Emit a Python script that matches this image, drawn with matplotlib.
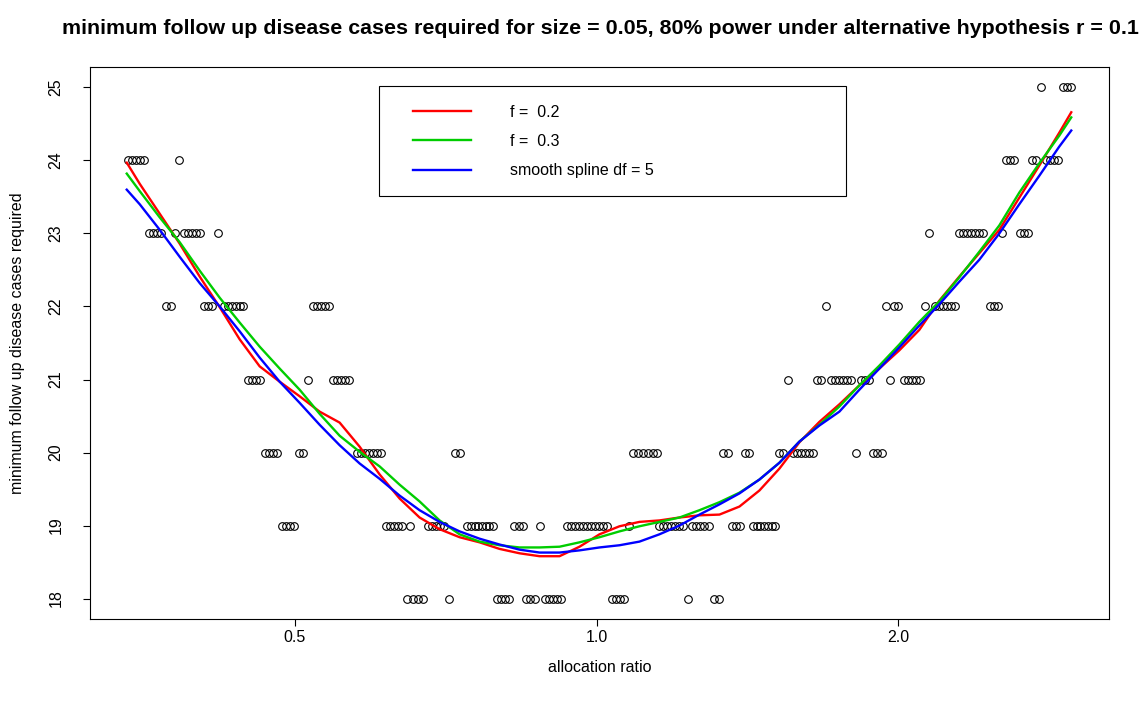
import numpy as np
import matplotlib
matplotlib.use("Agg")
import matplotlib.pyplot as plt
from matplotlib.patches import Rectangle
from matplotlib.lines import Line2D

plt.rcParams['font.family'] = ['Liberation Sans', 'DejaVu Sans']

# ---------------- data (allocation ratio values per observed case count) ----------------
ratio_at_25 = [2.7770, 2.9208, 2.9477, 2.9749]
ratio_at_24 = [0.34080, 0.34395, 0.34712, 0.35032, 0.35355, 0.38313,
               2.5626, 2.5863, 2.6101, 2.7202, 2.7453, 2.8090, 2.8350, 2.8611, 2.8875]
ratio_at_23 = [0.35764, 0.36093, 0.36426, 0.36762, 0.37963, 0.38755, 0.39112, 0.39473,
               0.39837, 0.40205, 0.41900,
               2.1475, 2.3006, 2.3218, 2.3432, 2.3648, 2.3866, 2.4086, 2.4308, 2.5392,
               2.6463, 2.6707, 2.6953]
ratio_at_22 = [0.37186, 0.37615, 0.40575, 0.40949, 0.41327, 0.42481, 0.42873, 0.43268,
               0.43667, 0.44070, 0.44375, 0.52109, 0.52590, 0.53075, 0.53564, 0.54059,
               1.6954, 1.9457, 1.9817, 2.0000, 2.1279, 2.1773, 2.1973, 2.2176, 2.2381,
               2.2587, 2.2796, 2.4702, 2.4930, 2.5160]
ratio_at_21 = [0.44887, 0.45301, 0.45719, 0.46140, 0.51515, 0.54557, 0.55060, 0.55568,
               0.56080, 0.56597,
               1.5538, 1.6607, 1.6760, 1.7149, 1.7307, 1.7467, 1.7628, 1.7791, 1.7955,
               1.8372, 1.8541, 1.8712, 1.9636, 2.0277, 2.0464, 2.0653, 2.0844, 2.1036]
ratio_at_20 = [0.46673, 0.47103, 0.47538, 0.47977, 0.50461, 0.50927, 0.57646, 0.58177,
               0.58714, 0.59256, 0.59803, 0.60354, 0.60911, 0.72186, 0.73020,
               1.08863, 1.10120, 1.11390, 1.12676, 1.13977, 1.15028, 1.3384, 1.3539,
               1.4077, 1.4207, 1.5220, 1.5360, 1.5717, 1.5862, 1.6008, 1.6156, 1.6305,
               1.6455, 1.8162, 1.8885, 1.9059, 1.9279]
ratio_at_19 = [0.48530, 0.48978, 0.49430, 0.49885, 0.61613, 0.62182, 0.62755, 0.63335,
               0.63919, 0.65103, 0.67849, 0.68474, 0.69106, 0.69743, 0.70387, 0.74202,
               0.74886, 0.75578, 0.76099, 0.76801, 0.77509, 0.78045, 0.78765, 0.82655,
               0.83608, 0.84380, 0.87737, 0.93346, 0.94207, 0.95076, 0.95953, 0.96838,
               0.97731, 0.98632, 0.99542, 1.00460, 1.01387, 1.02322, 1.07868, 1.15557,
               1.16623, 1.17698, 1.18784, 1.19880, 1.20986, 1.22102, 1.24651, 1.25800,
               1.26961, 1.28131, 1.29611, 1.36637, 1.37897, 1.39169, 1.43385, 1.44707,
               1.45706, 1.47050, 1.48406, 1.49773, 1.50808]
ratio_at_18 = [0.64656, 0.65553, 0.66310, 0.67075, 0.71199, 0.79491, 0.80224, 0.80964,
               0.81711, 0.84963, 0.85746, 0.86736, 0.88750, 0.89568, 0.90394, 0.91228,
               0.92069, 1.03740, 1.04697, 1.05663, 1.06638, 1.23511, 1.31106, 1.32620]

case_levels = [25, 24, 23, 22, 21, 20, 19, 18]

# smoothed curves
curve_ratio = [0.34002, 0.35032, 0.36678, 0.38400, 0.40205, 0.42093, 0.44070, 0.46140,
               0.48308, 0.50578, 0.52952, 0.55440, 0.58045, 0.60772, 0.63625, 0.66614,
               0.69743, 0.73020, 0.76449, 0.80041, 0.83800, 0.87737, 0.91859, 0.96173,
               1.00691, 1.05421, 1.10372, 1.15557, 1.20986, 1.26669, 1.32620, 1.38848,
               1.45371, 1.52200, 1.59350, 1.66834, 1.74670, 1.82876, 1.91466, 2.00461,
               2.09877, 2.19730, 2.30060, 2.40860, 2.52178, 2.64024, 2.76425, 2.89413,
               2.97490]
lowess_f02 = [23.97, 23.68, 23.27, 22.86, 22.41, 21.99, 21.55, 21.18, 20.97, 20.77,
              20.56, 20.41, 20.08, 19.70, 19.37, 19.11, 18.95, 18.84, 18.77, 18.68,
              18.62, 18.58, 18.58, 18.71, 18.88, 18.99, 19.05, 19.07, 19.11, 19.14,
              19.15, 19.26, 19.48, 19.78, 20.14, 20.42, 20.66, 20.92, 21.15, 21.40,
              21.68, 22.08, 22.41, 22.73, 23.05, 23.49, 23.93, 24.38, 24.66]
lowess_f03 = [23.82, 23.58, 23.22, 22.88, 22.49, 22.12, 21.78, 21.45, 21.15, 20.86,
              20.53, 20.23, 20.01, 19.81, 19.56, 19.33, 19.07, 18.88, 18.78, 18.73,
              18.70, 18.70, 18.71, 18.77, 18.84, 18.92, 18.99, 19.05, 19.11, 19.21,
              19.32, 19.45, 19.63, 19.86, 20.15, 20.38, 20.63, 20.92, 21.19, 21.48,
              21.79, 22.07, 22.40, 22.75, 23.11, 23.56, 23.96, 24.34, 24.59]
spline_df5 = [23.60, 23.40, 23.05, 22.68, 22.32, 22.00, 21.66, 21.30, 20.97, 20.68,
              20.38, 20.10, 19.85, 19.64, 19.41, 19.21, 19.05, 18.92, 18.82, 18.74,
              18.67, 18.63, 18.63, 18.66, 18.70, 18.73, 18.78, 18.88, 19.00, 19.15,
              19.29, 19.44, 19.63, 19.86, 20.15, 20.37, 20.56, 20.86, 21.15, 21.44,
              21.74, 22.03, 22.34, 22.64, 23.00, 23.40, 23.79, 24.19, 24.41]

legend_labels = ["f =  0.2", "f =  0.3", "smooth spline df = 5"]
x_ticks = [0.5, 1.0, 2.0]
x_tick_labels = ["0.5", "1.0", "2.0"]
y_ticks = [18, 19, 20, 21, 22, 23, 24, 25]

# ---------------- figure ----------------
W, H = 1146, 704
fig = plt.figure(figsize=(W / 100, H / 100), dpi=100)
ax = fig.add_axes([90 / W, 1 - 619 / H, (1109 - 90) / W, (619 - 67) / H])

groups = [ratio_at_25, ratio_at_24, ratio_at_23, ratio_at_22,
          ratio_at_21, ratio_at_20, ratio_at_19, ratio_at_18]
xs, ys = [], []
for lvl, g in zip(case_levels, groups):
    xs.extend(g)
    ys.extend([lvl] * len(g))
xs = np.array(xs)
ys = np.array(ys, dtype=float)

ax.plot(xs, ys, linestyle='none', marker='o', markersize=5.5,
        markerfacecolor='none', markeredgecolor='black', markeredgewidth=0.8)

lw = 1.7
ax.plot(curve_ratio, lowess_f02, color='#FF0000', lw=lw)
ax.plot(curve_ratio, lowess_f03, color='#00CD00', lw=lw)
ax.plot(curve_ratio, spline_df5, color='#0000FF', lw=lw)

ax.set_xscale('log')
lo, hi = np.log(xs.min()), np.log(xs.max())
pad = 0.04 * (hi - lo)
ax.set_xlim(np.exp(lo - pad), np.exp(hi + pad))
ypad = 0.04 * (ys.max() - ys.min())
ax.set_ylim(ys.min() - ypad, ys.max() + ypad)

ax.xaxis.set_minor_locator(matplotlib.ticker.NullLocator())
ax.set_xticks(x_ticks)
ax.set_xticklabels(x_tick_labels)
ax.set_yticks(y_ticks)
ax.set_yticklabels([str(v) for v in y_ticks], rotation=90, va='center')
ax.tick_params(axis='both', direction='out', length=5, width=0.8, labelsize=11.5,
               colors='black')
ax.tick_params(axis='x', pad=3)
ax.tick_params(axis='y', pad=14)
for s in ax.spines.values():
    s.set_linewidth(0.8)
    s.set_color('black')

fig.text(600 / W, 1 - 28 / H,
         "minimum follow up disease cases required for size = 0.05, 80% power under alternative hypothesis r = 0.1",
         ha='center', va='center', fontsize=15.4, fontweight='bold')
fig.text(600 / W, 1 - 668 / H, "allocation ratio", ha='center', va='center', fontsize=11.5)
fig.text(18 / W, 1 - 343 / H, "minimum follow up disease cases required",
         ha='center', va='center', rotation=90, fontsize=11.5)

# legend
handles = [Line2D([], [], color='#FF0000', lw=lw),
           Line2D([], [], color='#00CD00', lw=lw),
           Line2D([], [], color='#0000FF', lw=lw)]
leg = fig.legend(handles, legend_labels, loc='upper left',
                 bbox_to_anchor=(413 / W, 1 - 105 / H), frameon=False,
                 fontsize=11.5, handlelength=3.6, handletextpad=2.5,
                 labelspacing=0.88, borderaxespad=0, borderpad=0)
fig.patches.append(Rectangle((379 / W, 1 - 196 / H), (846 - 379) / W, (196 - 86) / H,
                             transform=fig.transFigure, fill=False,
                             edgecolor='black', linewidth=0.8))

fig.savefig("out.png", dpi=100)
